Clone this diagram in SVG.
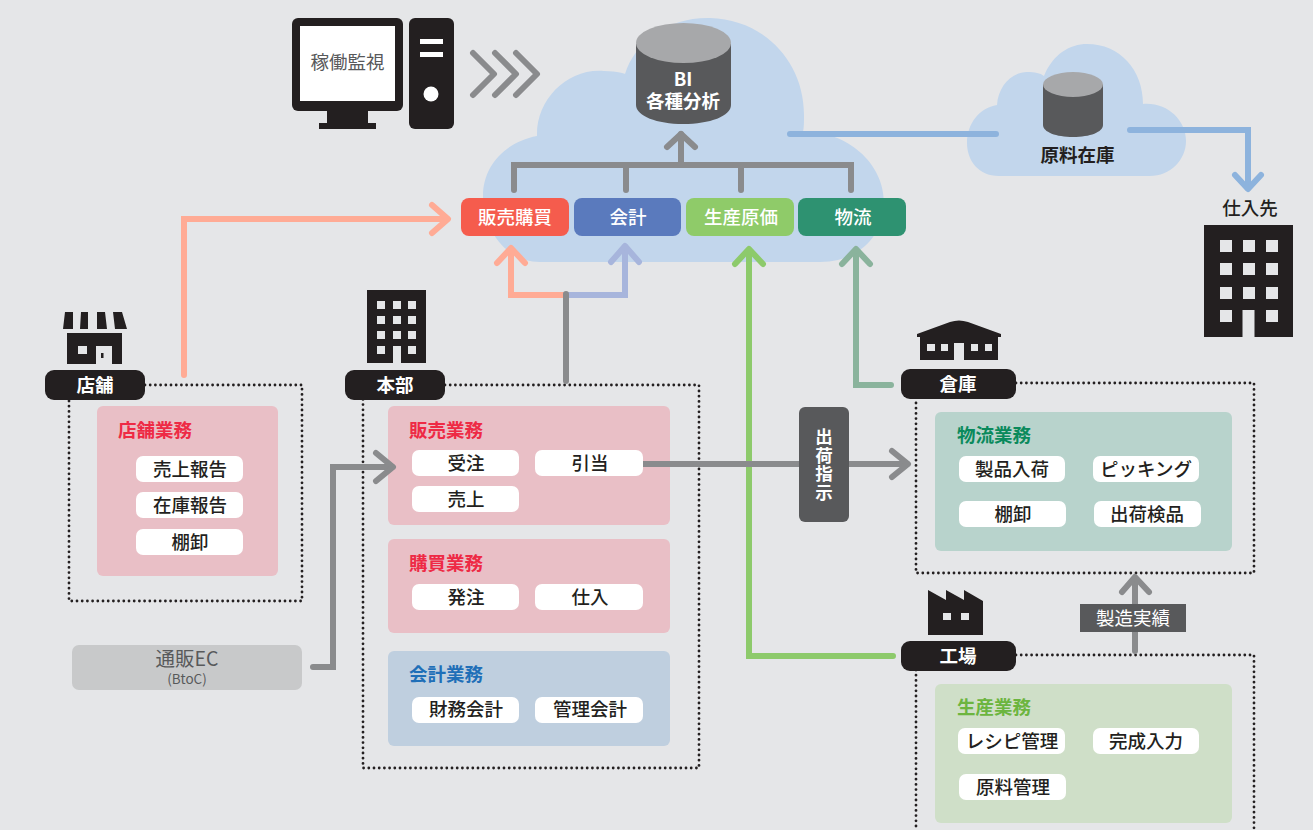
<svg xmlns="http://www.w3.org/2000/svg" width="1313" height="830" viewBox="0 0 1313 830">
<style>
text{font-family:"Noto Sans CJK JP","Noto Sans",sans-serif;text-anchor:middle}
.c{fill:none;stroke-width:6;stroke-linecap:round;stroke-linejoin:miter}
.h{stroke-linejoin:round}
.k{fill:#231f20}
.g{fill:#e5e6e8}
.dot{fill:none;stroke:#231f20;stroke-width:2.8;stroke-dasharray:0 5.2;stroke-linecap:round}
.t{font-size:18.5px;font-weight:500;fill:#231f20}
.w{fill:#fff}
.lb{font-size:18.5px;font-weight:700;fill:#fff}
.bh{font-size:18.5px;font-weight:700}
.mod{font-size:18.5px;font-weight:500;fill:#fff}
</style>
<defs>
<path id="bld" d="M0 0H89V112H50.500V85H38.500V112H0Z"/>
</defs>
<rect width="1313" height="830" fill="#e5e6e8"/>
<g id="clouds" fill="#c2d6ec">
<path d="M540 262C505 262 483 228 483 196C483 166 505 142 537 136C536 100 567 68 604 71C618 71 625 74 625 74C635 42 668 17 710 18C762 19 804 60 804 115C804 122 804 127 803 132C843 130 884 160 884 203C884 236 858 262 820 262Z"/>
<path d="M999 176C978 176 967 160 967 143C967 124 979 108 997 105C998 86 1012 72 1027 72C1035 72 1040 73 1044 76C1053 54 1070 44 1087 44C1120 44 1143 70 1143 104C1167 102 1186 120 1186 141C1186 160 1170 176 1150 176Z"/>
</g>
<g id="monitor">
<rect class="k" x="292" y="18" width="111" height="93" rx="6"/>
<rect x="300" y="26" width="95" height="75" fill="#fff"/>
<path class="k" d="M327 110H368V123H376V129H319V123H327Z"/>
<rect class="k" x="409" y="18" width="45" height="111" rx="6"/>
<rect x="420" y="39" width="23" height="5" fill="#fff"/>
<rect x="420" y="52" width="23" height="5" fill="#fff"/>
<circle cx="431" cy="94" r="7.500" fill="#fff"/>
<text x="347.500" y="69" font-size="18.500" fill="#58595b">稼働監視</text>
</g>
<g id="bi">
<path d="M636 44H731V105C731 116 710 124 683 124C657 124 636 116 636 105Z" fill="#58595b"/>
<ellipse cx="683.500" cy="43" rx="47.500" ry="20" fill="#a7a8aa"/>
<text class="bh" fill="#fff"><tspan x="683" y="86">BI</tspan><tspan x="683" y="108">各種分析</tspan></text>
</g>
<g id="material">
<path d="M1043 84H1103V125C1103 132 1090 137 1073 137C1056 137 1043 132 1043 125Z" fill="#58595b"/>
<ellipse cx="1073" cy="84.500" rx="30" ry="12.500" fill="#a7a8aa"/>
<text class="bh" x="1077.500" y="162" fill="#231f20">原料在庫</text>
</g>
<g id="supplier">
<text x="1250" y="215" font-size="18.500" font-weight="500" fill="#231f20">仕入先</text>
<use href="#bld" class="k" x="1204" y="225"/>
<g class="g"><rect x="1220" y="240" width="12" height="12"/><rect x="1243" y="240" width="12" height="12"/><rect x="1266" y="240" width="12" height="12"/><rect x="1220" y="263" width="12" height="12"/><rect x="1243" y="263" width="12" height="12"/><rect x="1266" y="263" width="12" height="12"/><rect x="1220" y="287" width="12" height="12"/><rect x="1243" y="287" width="12" height="12"/><rect x="1266" y="287" width="12" height="12"/><rect x="1220" y="310" width="12" height="12"/><rect x="1266" y="310" width="12" height="12"/></g>
</g>
<g id="mod-sales"><rect x="461" y="198" width="108" height="38" rx="8" fill="#f55c4d"/><text class="mod" x="515" y="224">販売購買</text></g>
<g id="mod-acct"><rect x="574" y="198" width="107" height="38" rx="8" fill="#5a7abd"/><text class="mod" x="628" y="224">会計</text></g>
<g id="mod-cost"><rect x="686" y="198" width="108" height="38" rx="8" fill="#8fcb69"/><text class="mod" x="741" y="224">生産原価</text></g>
<g id="mod-log"><rect x="798" y="198" width="108" height="38" rx="8" fill="#2e9271"/><text class="mod" x="853" y="224">物流</text></g>
<g id="store">
<path class="k" d="M65 312H73V329H63ZM81 312H88V329H80ZM97 312H105L107 329H97ZM113 312H122L127 329H115ZM67 333H122V364H112V346H96V364H67Z"/>
<rect class="g" x="78" y="346" width="9" height="8"/>
<rect class="k" x="101" y="353" width="2.500" height="5"/>
<path class="dot" d="M145 385H302V601H69V399"/>
<rect class="k" x="45" y="370" width="100" height="30" rx="9"/>
<text class="lb" x="95" y="392">店舗</text>
<rect x="97" y="406" width="181" height="170" rx="6" fill="#e9bfc6"/>
<text class="bh" x="155" y="437" fill="#ee2a45">店舗業務</text>
<rect x="136" y="456" width="107" height="26" rx="7" fill="#fff"/><text class="t" x="190" y="476">売上報告</text>
<rect x="136" y="492" width="107" height="26" rx="7" fill="#fff"/><text class="t" x="190" y="512">在庫報告</text>
<rect x="136" y="529" width="107" height="26" rx="7" fill="#fff"/><text class="t" x="190" y="549">棚卸</text>
</g>
<g id="hq">
<path class="k" d="M367 290H426V363H401V346H393V363H367Z"/>
<g class="g"><rect x="377" y="301" width="8" height="8"/><rect x="393" y="301" width="8" height="8"/><rect x="408" y="301" width="8" height="8"/><rect x="377" y="316" width="8" height="8"/><rect x="393" y="316" width="8" height="8"/><rect x="408" y="316" width="8" height="8"/><rect x="377" y="331" width="8" height="8"/><rect x="393" y="331" width="8" height="8"/><rect x="408" y="331" width="8" height="8"/><rect x="377" y="346" width="8" height="8"/><rect x="408" y="346" width="8" height="8"/></g>
<path class="dot" d="M445 385H699V768H363V399"/>
<rect class="k" x="345" y="370" width="100" height="30" rx="9"/>
<text class="lb" x="395" y="392">本部</text>
<rect x="388" y="406" width="282" height="119" rx="6" fill="#e9bfc6"/>
<text class="bh" x="446" y="437" fill="#ee2a45">販売業務</text>
<rect x="412" y="450" width="107" height="26" rx="7" fill="#fff"/><text class="t" x="466" y="470">受注</text>
<rect x="412" y="486" width="107" height="26" rx="7" fill="#fff"/><text class="t" x="466" y="506">売上</text>
<rect x="388" y="539" width="282" height="94" rx="6" fill="#e9bfc6"/>
<text class="bh" x="446" y="570" fill="#ee2a45">購買業務</text>
<rect x="412" y="584" width="107" height="26" rx="7" fill="#fff"/><text class="t" x="466" y="604">発注</text>
<rect x="535" y="584" width="108" height="26" rx="7" fill="#fff"/><text class="t" x="590" y="604">仕入</text>
<rect x="388" y="651" width="282" height="95" rx="6" fill="#bfcfdf"/>
<text class="bh" x="446" y="681" fill="#1f6fb8">会計業務</text>
<rect x="412" y="697" width="107" height="26" rx="7" fill="#fff"/><text class="t" x="466" y="716">財務会計</text>
<rect x="535" y="697" width="108" height="26" rx="7" fill="#fff"/><text class="t" x="590" y="716">管理会計</text>
</g>
<g id="ec">
<rect x="72" y="645" width="230" height="45" rx="7" fill="#c8c9ca"/>
<text font-size="19.500" fill="#58595b"><tspan x="187" y="666">通販EC</tspan><tspan x="187" y="684" font-size="13.500">(BtoC)</tspan></text>
</g>
<g id="warehouse">
<path class="k" d="M917 334L950 322Q959 319 968 322L1001 334V337H998V360H964V343H954V360H920V337H917Z"/>
<g class="g"><rect x="927" y="344" width="8" height="7"/><rect x="941" y="344" width="7" height="7"/><rect x="971" y="344" width="7" height="7"/><rect x="985" y="344" width="7" height="7"/></g>
<path class="dot" d="M1016 383H1254V573H916V399"/>
<rect class="k" x="901" y="369" width="115" height="30" rx="9"/>
<text class="lb" x="958" y="391">倉庫</text>
<rect x="935" y="412" width="297" height="139" rx="6" fill="#b8d3cc"/>
<text class="bh" x="994" y="442" fill="#0a8a5c">物流業務</text>
<rect x="959" y="456" width="106" height="26" rx="7" fill="#fff"/><text class="t" x="1012" y="476">製品入荷</text>
<rect x="1093" y="456" width="106" height="26" rx="7" fill="#fff"/><text class="t" x="1146" y="476">ピッキング</text>
<rect x="959" y="501" width="107" height="26" rx="7" fill="#fff"/><text class="t" x="1013" y="521">棚卸</text>
<rect x="1094" y="501" width="107" height="26" rx="7" fill="#fff"/><text class="t" x="1147" y="521">出荷検品</text>
</g>
<g id="factory">
<path class="k" d="M928 590L946 600V590L964 600V590L983 601V635H928Z"/>
<rect class="g" x="943" y="613" width="8" height="7"/><rect class="g" x="961" y="613" width="8" height="7"/>
<path class="dot" d="M1016 655H1254V830M916 670V830"/>
<rect class="k" x="901" y="641" width="115" height="30" rx="9"/>
<text class="lb" x="958" y="663">工場</text>
<rect x="935" y="684" width="297" height="139" rx="6" fill="#cfdfc8"/>
<text class="bh" x="994" y="714" fill="#6cb53f">生産業務</text>
<rect x="958" y="728" width="107" height="26" rx="7" fill="#fff"/><text class="t" x="1012" y="748">レシピ管理</text>
<rect x="1093" y="728" width="106" height="26" rx="7" fill="#fff"/><text class="t" x="1146" y="748">完成入力</text>
<rect x="959" y="774" width="107" height="26" rx="7" fill="#fff"/><text class="t" x="1013" y="794">原料管理</text>
</g>
<g id="connectors" fill="none">
<path class="c" stroke="#8a8b8d" d="M514 190V165H851V190M626 165V190M741 165V190M681 165V134"/>
<path class="c h" stroke="#8a8b8d" d="M667 147L681 134L695 147"/>
<path class="c h" stroke="#8a8b8d" d="M473 53L494 74L473 95M495 53L516 74L495 95M516 53L537 74L516 95"/>
<path class="c" stroke="#8db3dd" d="M790 134H996M1130 130H1248V188"/>
<path class="c h" stroke="#8db3dd" d="M1235 175L1248 189L1261 175"/>
<path class="c" stroke="#ffab95" d="M184 375V219H447"/>
<path class="c h" stroke="#ffab95" d="M432 205L448 219L432 233"/>
<path class="c" stroke="#ffab95" d="M566 295H511V249"/>
<path class="c h" stroke="#ffab95" d="M497 263L511 248L525 263"/>
<path class="c" stroke="#a7b5dc" d="M566 295H625V247"/>
<path class="c h" stroke="#a7b5dc" d="M611 262L625 246L639 262"/>
<path class="c" stroke="#8a8b8d" d="M566 381V294"/>
<path class="c" stroke="#8dca6b" d="M893 656H749V250"/>
<path class="c h" stroke="#8dca6b" d="M735 264L749 249L763 264"/>
<path class="c" stroke="#8ab39c" d="M891 385H856V250"/>
<path class="c h" stroke="#8ab39c" d="M842 264L856 249L870 264"/>
<path class="c" stroke="#8a8b8d" d="M640 464H907"/>
<path class="c h" stroke="#8a8b8d" d="M892 451L908 464L892 477"/>
<path class="c" stroke="#8a8b8d" d="M313 667H333V467H392"/>
<path class="c h" stroke="#8a8b8d" d="M376 453L393 467L376 481"/>
<path class="c" stroke="#8a8b8d" d="M1135 651V579"/>
<path class="c h" stroke="#8a8b8d" d="M1122 592L1135 577L1149 592"/>
</g>
<g id="hq-pull">
<rect x="535" y="450" width="108" height="26" rx="7" fill="#fff"/><text class="t" x="590" y="470">引当</text>
</g>
<g id="ship">
<rect x="799" y="407" width="50" height="115" rx="6" fill="#58595b"/>
<text class="lb" x="824" y="465" style="writing-mode:vertical-rl;font-size:17.5px;letter-spacing:1px">出荷指示</text>
</g>
<g id="result">
<rect x="1080" y="604" width="106" height="28" fill="#58595b"/>
<text x="1133" y="625" font-size="18.500" fill="#fff">製造実績</text>
</g>
</svg>
